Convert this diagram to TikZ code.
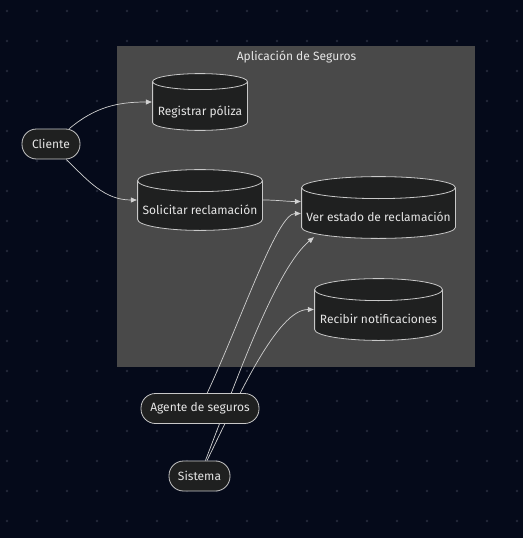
\documentclass[tikz,border=0pt]{standalone}
\usepackage{fontspec}
\setmainfont{Fira Sans}
\usetikzlibrary{arrows.meta,calc}

\definecolor{bgnavy}{HTML}{050A1A}
\definecolor{griddot}{HTML}{23283A}
\definecolor{clusterbg}{HTML}{494949}
\definecolor{nodefill}{HTML}{1F2020}
\definecolor{nodeline}{HTML}{C8C8C8}
\definecolor{edgeline}{HTML}{D0D0D0}
\definecolor{labeltxt}{HTML}{E6E6E6}

\pgfdeclarelayer{back}
\pgfdeclarelayer{edges}
\pgfsetlayers{back,edges,main}

% push a label below the middle of a cylinder body
\newcommand{\lowtxt}[1]{\raisebox{-9.5pt}[\height][\depth]{#1}}

\tikzset{
  actor/.style={draw=nodeline, fill=nodefill, line width=0.8pt,
    rounded corners=14.5pt, minimum height=30pt, inner xsep=0pt,
    text=labeltxt, font=\fontsize{12}{14}\selectfont},
  db/.style={inner sep=0pt, text=labeltxt, font=\fontsize{12}{14}\selectfont,
    path picture={
      \path[fill=nodefill, draw=nodeline, line width=0.8pt]
        let \p1=(path picture bounding box.north west),
            \p2=(path picture bounding box.south east) in
        (\x1+0.6pt,\y1-0.6pt-#1pt) -- (\x1+0.6pt,\y2+0.6pt+#1pt)
        arc[start angle=180, end angle=360, x radius={(\x2-\x1)/2-0.6pt}, y radius=#1pt]
        -- (\x2-0.6pt,\y1-0.6pt-#1pt)
        arc[start angle=0, end angle=180, x radius={(\x2-\x1)/2-0.6pt}, y radius=#1pt]
        -- cycle;
      \draw[nodeline, line width=0.8pt]
        let \p1=(path picture bounding box.north west),
            \p2=(path picture bounding box.south east) in
        (\x1+0.6pt,\y1-0.6pt-#1pt)
        arc[start angle=180, end angle=360, x radius={(\x2-\x1)/2-0.6pt}, y radius=#1pt];
    }},
  edge/.style={draw=edgeline, line width=0.7pt, -{Triangle[length=6pt,width=5pt]}},
  title/.style={text=labeltxt, font=\fontsize{12}{14}\selectfont},
}

\begin{document}
\begin{tikzpicture}[x=1pt,y=-1pt]
  \useasboundingbox (0,0) rectangle (523,538);
  \begin{pgfonlayer}{back}
    \fill[bgnavy] (0,0) rectangle (523,538);
    \foreach \i in {0,...,17}
      \foreach \j in {0,...,17}
        \fill[griddot] (7+30*\i,11+30*\j) circle[radius=1.4pt];
    \fill[clusterbg] (117,46) rectangle (475,367);
  \end{pgfonlayer}

  \node[title] (ttl) at (296.5,57) {Aplicación de Seguros};

  % actors
  \node[actor, minimum width=58pt] (cli) at (51,144) {Cliente};
  \node[actor, minimum width=118pt] (age) at (200,408.5) {Agente de seguros};
  \node[actor, minimum width=61pt] (sys) at (199.5,476) {Sistema};

  % use cases
  \node[db=8, minimum width=96pt, minimum height=58pt] (reg) at (200,102)
    {\lowtxt{Registrar póliza}};
  \node[db=11, minimum width=126pt, minimum height=62pt] (sol) at (200,200)
    {\lowtxt{Solicitar reclamación}};
  \node[db=11, minimum width=155pt, minimum height=63pt] (ver) at (378.5,207.5)
    {\lowtxt{Ver estado de reclamación}};
  \node[db=11, minimum width=129pt, minimum height=63pt] (rec) at (378.5,309.5)
    {\lowtxt{Recibir notificaciones}};

  \begin{pgfonlayer}{edges}
    \draw[edge] (cli) to[out=40, in=180] (reg.west);
    \draw[edge] (cli) to[out=-45, in=180] (sol.west);
    \draw[edge] (sol.east) to[out=0, in=180] ($(ver.west)+(0,-6)$);
    \draw[edge] (age) to[out=65, in=180, in looseness=0.3] ($(ver.west)+(0,6)$);
    \draw[edge] (sys) to[out=69, in=220, in looseness=0.5] ($(ver.south west)+(13,-2)$);
    \draw[edge] (sys) to[out=64, in=180, in looseness=0.5] (rec.west);
  \end{pgfonlayer}
\end{tikzpicture}
\end{document}
